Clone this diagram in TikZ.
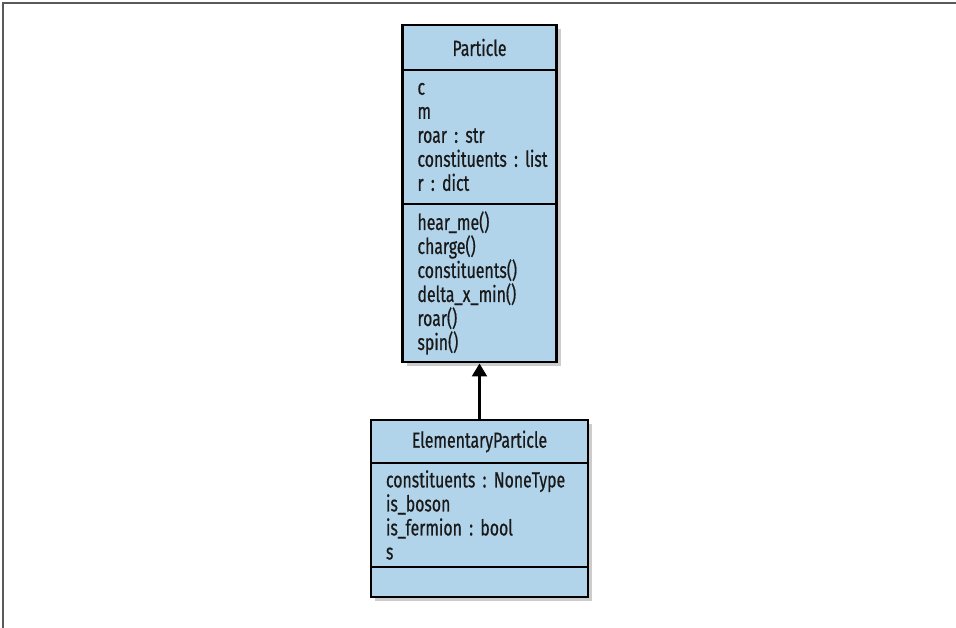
\documentclass[tikz,border=0pt]{standalone}
\usepackage{fontspec}
\setmainfont{Fira Sans}[FakeStretch=0.72, FakeBold=0.6, WordSpace=0.7]
\usetikzlibrary{arrows.meta, positioning, shadows}
\definecolor{classblue}{RGB}{178,212,234}
\tikzset{
  classpart/.style={draw, line width=2.6pt, fill=classblue, outer sep=0pt,
    inner xsep=15pt, inner ysep=0pt, text=black!90,
    font=\fontsize{22}{24}\selectfont,
    drop shadow={shadow xshift=4pt, shadow yshift=-4pt, opacity=0.4}},
  classhead/.style={classpart, align=center},
  classbody/.style={classpart, align=left},
}

\begin{document}
\begin{tikzpicture}[x=1pt,y=1pt]
\useasboundingbox (0,0) rectangle (956,628);
\draw[line width=1.6pt, black!65] (956,625) -- (3,625) -- (3,0);

\node[classhead, minimum width=154pt, minimum height=45pt] (particle) at (479.5,580.5) {Particle};
\node[classbody, text width=124pt, minimum height=134pt, below=0pt of particle] (particle-attr)
	{c\\ m\\ roar~:~str\\ constituents~:~list\\ r~:~dict};
\node[classbody, text width=124pt, minimum height=158pt, below=0pt of particle-attr] (particle-ops)
	{hear\_me()\\ charge()\\ constituents()\\ delta\_x\_min()\\ roar()\\ spin()};

\node[classhead, minimum width=217pt, minimum height=43pt] (elem) at (479.5,186.5) {ElementaryParticle};
\node[classbody, text width=187pt, minimum height=104pt, below=0pt of elem] (elem-attr)
	{constituents~:~NoneType\\ is\_boson\\ is\_fermion~:~bool\\ s};
\node[classbody, text width=187pt, minimum height=30pt, below=0pt of elem-attr] (elem-ops) {};

\draw[-{Triangle[width=15pt,length=13pt]}, line width=2.4pt, shorten >=1.5pt] (elem) -- (particle-ops);
\end{tikzpicture}
\end{document}
